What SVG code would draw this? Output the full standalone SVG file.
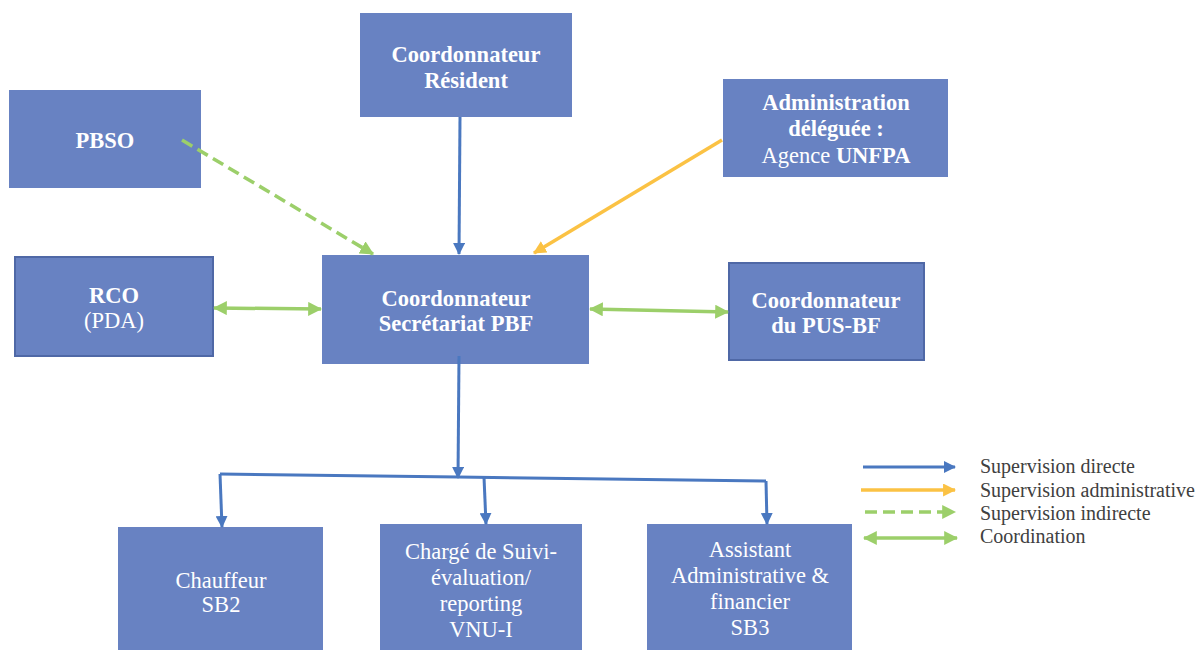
<svg xmlns="http://www.w3.org/2000/svg" width="1199" height="650" viewBox="0 0 1199 650">
<style>
.box{fill:#6882c2}
.bord{stroke:#4f68a6;stroke-width:2}
.t{font-family:"Liberation Serif","Times New Roman",serif;font-size:22.5px;fill:#ffffff;text-anchor:middle}
.b{font-weight:bold}
.lg{font-family:"Liberation Serif","Times New Roman",serif;font-size:20px;fill:#404040}
.blue{stroke:#4a78c0;stroke-width:3;fill:none}
.yel{stroke:#fbc244;stroke-width:3.5;fill:none}
.grn{stroke:#9ccf6a;stroke-width:3.5;fill:none}
.dash{stroke-dasharray:12 6}
</style>
<defs>
<marker id="ab" viewBox="0 0 12 12" markerWidth="12" markerHeight="12" refX="11" refY="6" orient="auto" markerUnits="userSpaceOnUse"><path d="M0,0L12,6L0,12Z" fill="#4a78c0"/></marker>
<marker id="ay" viewBox="0 0 12 12" markerWidth="13" markerHeight="13" refX="11" refY="6" orient="auto" markerUnits="userSpaceOnUse"><path d="M0,0L12,6L0,12Z" fill="#fbc244"/></marker>
<marker id="ag" viewBox="0 0 12 12" markerWidth="14" markerHeight="14" refX="11" refY="6" orient="auto" markerUnits="userSpaceOnUse"><path d="M0,0L12,6L0,12Z" fill="#9ccf6a"/></marker>
<marker id="ags" viewBox="0 0 12 12" markerWidth="14" markerHeight="14" refX="1" refY="6" orient="auto" markerUnits="userSpaceOnUse"><path d="M12,0L0,6L12,12Z" fill="#9ccf6a"/></marker>
</defs>

<g id="node-resident"><rect class="box" x="360" y="13" width="212" height="104"/><text class="t b" x="466" y="62">Coordonnateur</text><text class="t b" x="466" y="88">Résident</text></g>
<g id="node-pbso"><rect class="box" x="9" y="90" width="192" height="98"/><text class="t b" x="105" y="148">PBSO</text></g>
<g id="node-admin"><rect class="box" x="723" y="79" width="225" height="98"/><text class="t b" x="836" y="110">Administration</text><text class="t b" x="836" y="136">déléguée :</text><text class="t" x="836" y="163">Agence <tspan class="b">UNFPA</tspan></text></g>
<g id="node-rco"><rect class="box bord" x="15" y="257" width="198" height="99"/><text class="t b" x="114" y="303">RCO</text><text class="t" x="114" y="328">(PDA)</text></g>
<g id="node-pbf"><rect class="box" x="322" y="255" width="267" height="109"/><text class="t b" x="456" y="306">Coordonnateur</text><text class="t b" x="456" y="331">Secrétariat PBF</text></g>
<g id="node-pus"><rect class="box bord" x="729" y="263" width="195" height="97"/><text class="t b" x="826" y="308">Coordonnateur</text><text class="t b" x="826" y="333">du PUS-BF</text></g>
<g id="node-chauffeur"><rect class="box" x="118" y="527" width="205" height="123"/><text class="t" x="221" y="588">Chauffeur</text><text class="t" x="221" y="612">SB2</text></g>
<g id="node-charge"><rect class="box" x="380" y="524" width="202" height="126"/><text class="t" x="481" y="559">Chargé de Suivi-</text><text class="t" x="481" y="585">évaluation/</text><text class="t" x="481" y="611">reporting</text><text class="t" x="481" y="637">VNU-I</text></g>
<g id="node-assistant"><rect class="box" x="647" y="524" width="205" height="126"/><text class="t" x="750" y="557">Assistant</text><text class="t" x="750" y="583">Administrative &amp;</text><text class="t" x="750" y="609">financier</text><text class="t" x="750" y="635">SB3</text></g>

<g id="connectors">
<line class="blue" x1="460" y1="117" x2="459" y2="254" marker-end="url(#ab)"/>
<line class="yel" x1="722" y1="140" x2="534" y2="253" marker-end="url(#ay)"/>
<line class="grn dash" x1="182" y1="140" x2="373" y2="254" marker-end="url(#ag)"/>
<line class="grn" x1="214" y1="308" x2="321" y2="309" marker-start="url(#ags)" marker-end="url(#ag)"/>
<line class="grn" x1="590" y1="309" x2="728" y2="312" marker-start="url(#ags)" marker-end="url(#ag)"/>
<line class="blue" x1="459" y1="356" x2="458" y2="478" marker-end="url(#ab)"/>
<polyline class="blue" points="220,474 458,477 766,481"/>
<line class="blue" x1="220" y1="474" x2="222" y2="527" marker-end="url(#ab)"/>
<line class="blue" x1="484" y1="477" x2="486" y2="524" marker-end="url(#ab)"/>
<line class="blue" x1="766" y1="481" x2="767" y2="524" marker-end="url(#ab)"/>
</g>

<g id="legend">
<line class="blue" x1="863" y1="467" x2="955" y2="467" marker-end="url(#ab)"/>
<line class="yel" x1="861" y1="490" x2="955" y2="490" marker-end="url(#ay)"/>
<line class="grn dash" x1="865" y1="512" x2="955" y2="512" marker-end="url(#ag)"/>
<line class="grn" x1="864" y1="538" x2="957" y2="538" marker-start="url(#ags)" marker-end="url(#ag)"/>
<text class="lg" x="980" y="473">Supervision directe</text>
<text class="lg" x="980" y="497">Supervision administrative</text>
<text class="lg" x="980" y="520">Supervision indirecte</text>
<text class="lg" x="980" y="543">Coordination</text>
</g>
</svg>
